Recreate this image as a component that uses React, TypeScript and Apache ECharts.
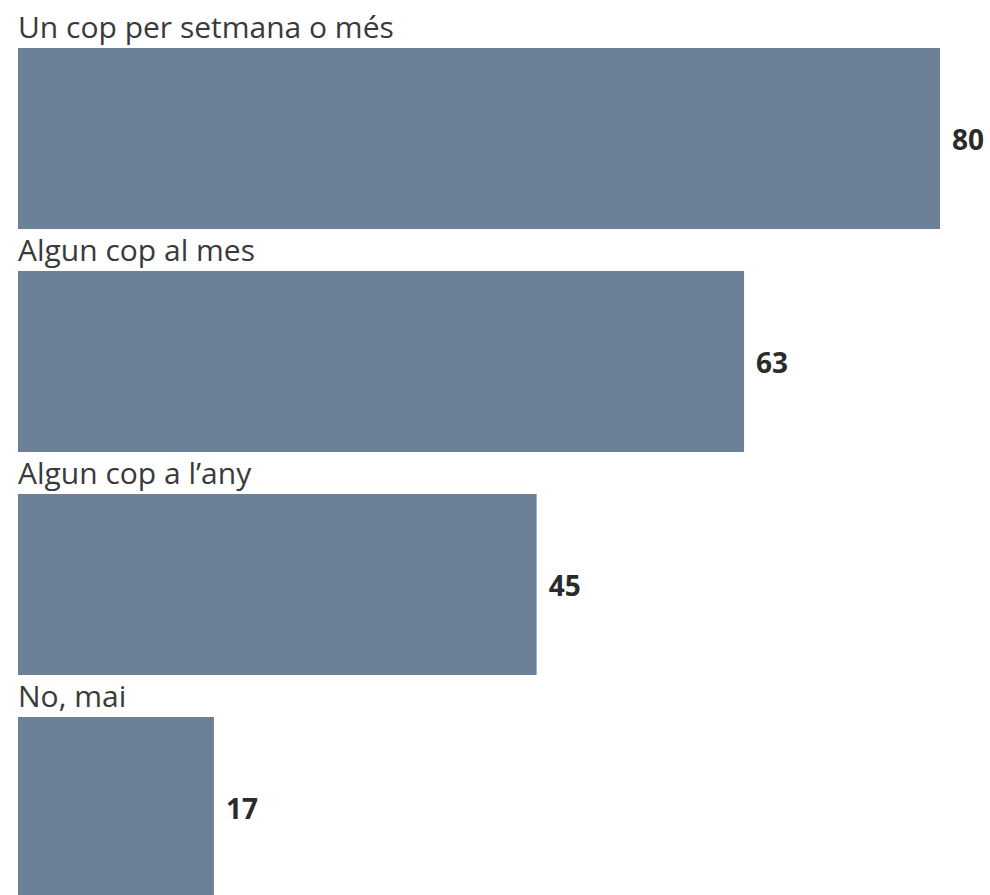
import React, { useEffect, useRef } from "react";
import * as echarts from "echarts";

const categories = ["Un cop per setmana o més", "Algun cop al mes", "Algun cop a l’any", "No, mai"];
const values = [80, 63, 45, 17];

export default function App() {
  const ref = useRef<HTMLDivElement>(null);
  useEffect(() => {
    if (!ref.current) return;
    const chart = echarts.init(ref.current, undefined, { renderer: "svg" });
    chart.setOption({
      animation: false,
      backgroundColor: "#ffffff",
      grid: { left: 18, top: 27, width: 922, height: 892, containLabel: false },
      xAxis: { type: "value", min: 0, max: 80, show: false },
      yAxis: {
        type: "category",
        data: categories,
        inverse: true,
        show: false,
      },
      series: [
        {
          type: "bar",
          data: values,
          barWidth: 181,
          itemStyle: { color: "#6c8197" },
          label: {
            show: true,
            position: "right",
            distance: 12,
            fontFamily: "Open Sans",
            fontWeight: "bold",
            fontSize: 28,
            color: "#2b2b2b",
          },
        },
        {
          type: "bar",
          data: values,
          barWidth: 181,
          barGap: "-100%",
          silent: true,
          itemStyle: { color: "rgba(0,0,0,0)" },
          label: {
            show: true,
            position: [0, -37],
            formatter: "{b}",
            fontFamily: "Open Sans",
            fontSize: 30,
            color: "#3a3a3a",
            align: "left",
            verticalAlign: "top",
          },
        },
      ],
    });
    return () => chart.dispose();
  }, []);
  return (
    <div style={{ position: "absolute", left: 0, top: 0, width: 990, height: 895, overflow: "hidden", background: "#fff" }}>
      <div ref={ref} style={{ width: 990, height: 930 }} />
    </div>
  );
}
